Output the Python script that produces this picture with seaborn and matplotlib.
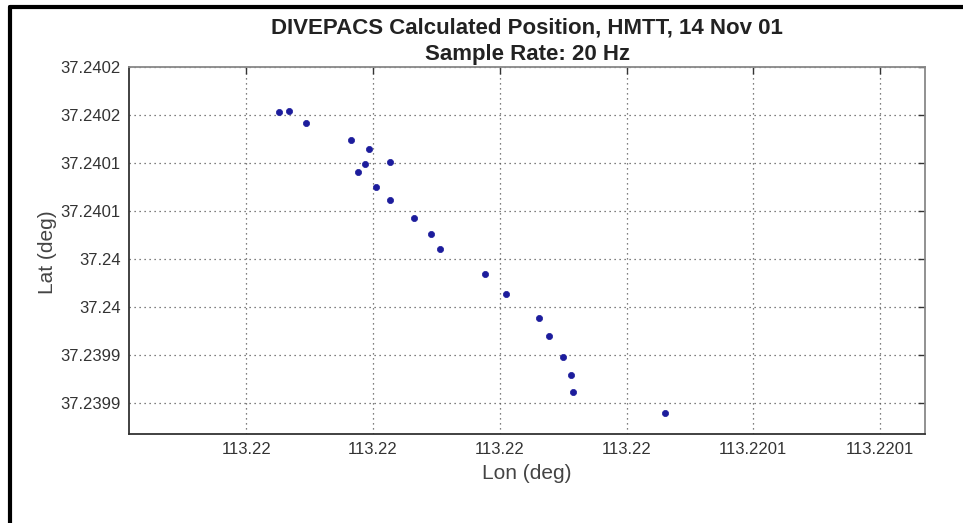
import matplotlib
matplotlib.use("Agg")
import matplotlib.pyplot as plt
import seaborn as sns
from matplotlib.lines import Line2D

# positions (deg)
lon = [113.2199852, 113.2199868, 113.2199895, 113.2199965, 113.2199994, 113.2199987,
       113.2199976, 113.2200027, 113.2200004, 113.2200027, 113.2200064, 113.2200091,
       113.2200105, 113.2200177, 113.2200209, 113.2200262, 113.2200278, 113.2200299,
       113.2200313, 113.2200315, 113.2200460]
lat = [37.2401631, 37.2401648, 37.2401523, 37.2401346, 37.2401249, 37.2401096,
       37.2401009, 37.2401110, 37.2400853, 37.2400718, 37.2400530, 37.2400366,
       37.2400207, 37.2399944, 37.2399742, 37.2399489, 37.2399298, 37.2399082,
       37.2398898, 37.2398721, 37.2398496]

x_ticks = [113.21998, 113.22000, 113.22002, 113.22004, 113.22006, 113.22008]
x_labels = ["113.22", "113.22", "113.22", "113.22", "113.2201", "113.2201"]
y_ticks = [37.23986, 37.23991, 37.23996, 37.24001, 37.24006, 37.24011, 37.24016, 37.24021]
y_labels = ["37.2399", "37.2399", "37.24", "37.24", "37.2401", "37.2401", "37.2402", "37.2402"]

sns.set_style("white")
plt.rcParams['font.family'] = ['Liberation Sans', 'DejaVu Sans']

fig = plt.figure(figsize=(9.63, 5.23), dpi=100)
ax = fig.add_axes([0.134, 0.1702, 0.8266, 0.7017])

sns.scatterplot(x=lon, y=lat, ax=ax, color='#1c1c9c', marker='o', s=20,
                edgecolor='#1c1c9c', linewidth=0.5, zorder=3)

ax.set_xlim(113.2199615, 113.2200871)
ax.set_ylim(37.239828, 37.2402103)
ax.set_xticks(x_ticks)
ax.set_xticklabels(x_labels)
ax.set_yticks(y_ticks)
ax.set_yticklabels(y_labels)

ax.grid(True, linestyle=(0, (1, 3)), color='#555555', linewidth=0.9)
ax.tick_params(direction='in', length=5, width=1, color='#333333',
               top=True, right=True, labelsize=12, labelcolor='#333333', pad=6)
for side in ['left', 'bottom']:
    ax.spines[side].set_color('#333333')
    ax.spines[side].set_linewidth(1.3)
for side in ['top', 'right']:
    ax.spines[side].set_color('#888888')
    ax.spines[side].set_linewidth(1.3)

ax.set_xlabel("Lon (deg)", fontsize=15, color='#444444')
ax.set_ylabel("Lat (deg)", fontsize=15, color='#444444')
ax.xaxis.set_label_coords(0.5, -0.082)
ax.yaxis.set_label_coords(-0.09, 0.495)

ax.set_title("DIVEPACS Calculated Position, HMTT, 14 Nov 01\nSample Rate: 20 Hz",
             fontsize=16, fontweight='bold', color='#222222', pad=5, linespacing=1.35)

# black frame on the left and top of the picture
fig.add_artist(Line2D([0.0101, 0.0101], [0, 0.9875], color='black', linewidth=3,
                      transform=fig.transFigure))
fig.add_artist(Line2D([0.0101, 1.0], [0.9875, 0.9875], color='black', linewidth=3,
                      transform=fig.transFigure))

fig.savefig("out.png", dpi=100)
